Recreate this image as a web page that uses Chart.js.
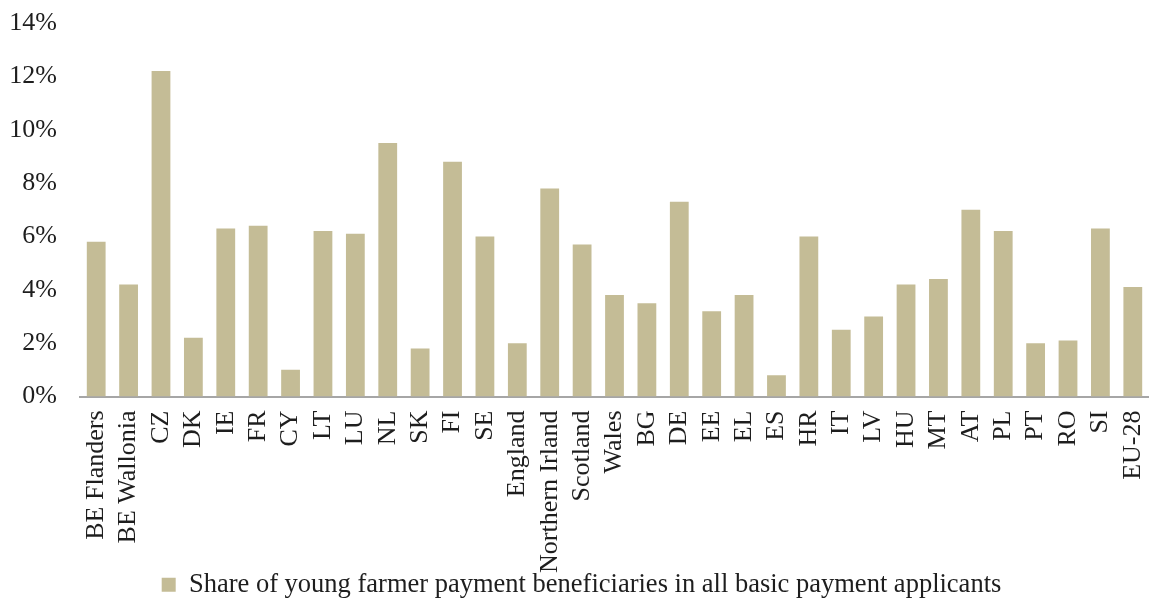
<!DOCTYPE html>
<html>
<head>
<meta charset="utf-8">
<script src="https://cdn.jsdelivr.net/npm/chart.js@4.4.1/dist/chart.umd.min.js"></script>
<style>
  html, body { margin: 0; padding: 0; background: #ffffff; }
  #wrap { width: 1149px; height: 600px; position: relative; }
</style>
</head>
<body>
<div id="wrap"><canvas id="c"></canvas></div>
<script>
const categories = ["BE Flanders", "BE Wallonia", "CZ", "DK", "IE", "FR", "CY", "LT", "LU", "NL", "SK", "FI", "SE", "England", "Northern Irland", "Scotland", "Wales", "BG", "DE", "EE", "EL", "ES", "HR", "IT", "LV", "HU", "MT", "AT", "PL", "PT", "RO", "SI", "EU-28"];
const shareValues = [5.8, 4.2, 12.2, 2.2, 6.3, 6.4, 1.0, 6.2, 6.1, 9.5, 1.8, 8.8, 6.0, 2.0, 7.8, 5.7, 3.8, 3.5, 7.3, 3.2, 3.8, 0.8, 6.0, 2.5, 3.0, 4.2, 4.4, 7.0, 6.2, 2.0, 2.1, 6.3, 4.1];
const seriesLabel = "Share of young farmer payment beneficiaries in all basic payment applicants";
const yTickValues = [0, 2, 4, 6, 8, 10, 12, 14];

const FONT = "'Liberation Serif', 'Times New Roman', serif";

new Chart(document.getElementById('c'), {
  type: 'bar',
  data: {
    labels: categories,
    datasets: [{
      label: seriesLabel,
      data: shareValues,
      backgroundColor: '#C4BC96',
      borderWidth: 0,
      categoryPercentage: 1.0,
      barPercentage: 0.58
    }]
  },
  options: {
    responsive: true,
    maintainAspectRatio: false,
    animation: false,
    layout: { padding: { left: 10, right: -4, top: 23, bottom: -8 } },
    plugins: {
      tooltip: { enabled: false },
      legend: {
        display: true,
        position: 'bottom',
        labels: {
          font: { family: FONT, size: 26.5 },
          color: '#1e1e1e',
          boxWidth: 14,
          boxHeight: 14,
          padding: 0,
          useBorderRadius: false
        }
      }
    },
    scales: {
      x: {
        grid: { display: false, drawTicks: false },
        border: { display: true, color: '#A6A6A6', width: 2 },
        ticks: {
          font: { family: FONT, size: 26 },
          color: '#1e1e1e',
          maxRotation: 90,
          minRotation: 90,
          autoSkip: false,
          padding: 14
        },
        afterFit: (s) => { s.height = 175; s.paddingLeft = 0; s.paddingRight = 0; }
      },
      y: {
        min: 0,
        max: 14,
        afterBuildTicks: (s) => { s.ticks = yTickValues.map(v => ({ value: v })); },
        grid: { display: false, drawTicks: false },
        border: { display: false },
        ticks: {
          font: { family: FONT, size: 26 },
          color: '#1e1e1e',
          padding: 23,
          callback: (v) => v + '%'
        },
        afterFit: (s) => { s.width = 70; s.paddingTop = 0; s.paddingBottom = 0; }
      }
    }
  },
  plugins: [{
    id: 'noLabelClip',
    beforeDraw: (chart) => {
      const x = chart.scales.x;
      if (x) { x._computeLabelArea = () => undefined; }
    }
  }]
});
</script>
</body>
</html>
